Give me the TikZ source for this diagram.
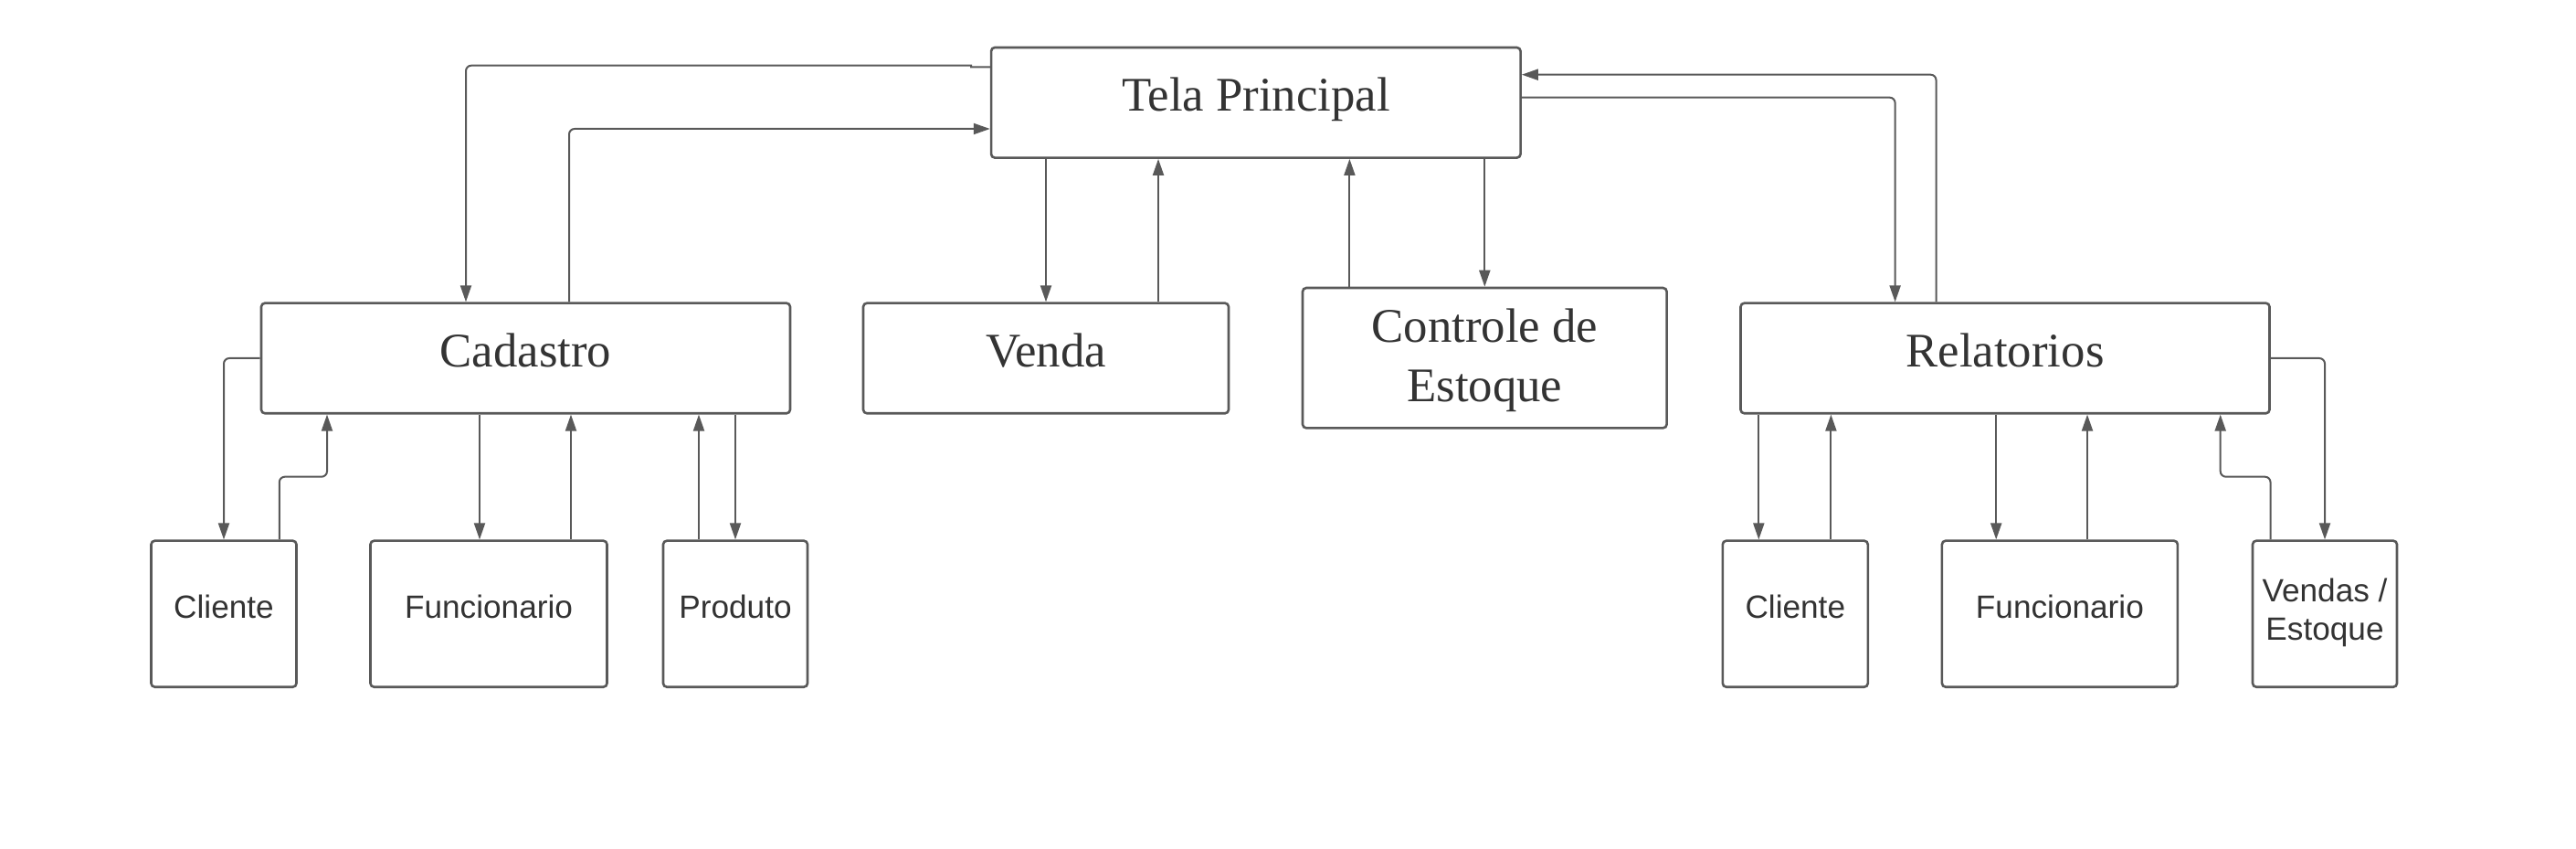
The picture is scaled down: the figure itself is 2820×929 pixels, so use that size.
\documentclass[tikz,border=0pt]{standalone}
\usepackage{fontspec}
\setmainfont{Liberation Serif}
\newfontfamily\sansf{Liberation Sans}
\usetikzlibrary{arrows.meta}
\definecolor{lc}{HTML}{595959}
\definecolor{tc}{HTML}{333333}
\tikzset{
  box/.style={draw=lc, line width=1.3pt, rounded corners=2pt, fill=white, inner sep=0pt},
  topbox/.style={box, minimum height=60.3pt},
  botbox/.style={box, minimum height=80pt},
  conn/.style={draw=lc, line width=1pt, rounded corners=3pt, -{Triangle[length=9pt,width=6pt]}},
  sertxt/.style={font=\fontsize{26.4}{32}\selectfont, text=tc, inner sep=0pt, anchor=base},
  santxt/.style={font=\sansf\fontsize{17.6}{22}\selectfont, text=tc, inner sep=0pt, anchor=base},
}
\begin{document}
\begin{tikzpicture}[x=0.5pt, y=-0.5pt]
\fill[white] (0,0) rectangle (2820,929);
\useasboundingbox (0,0) rectangle (2820,929);

% boxes
\node[topbox, minimum width=289.75pt] (tela) at (1374.8,112.3) {};
\node[topbox, minimum width=289.5pt] (cad) at (575.5,392) {};
\node[topbox, minimum width=200pt] (venda) at (1145,392) {};
\node[box, minimum width=199.3pt, minimum height=76.65pt] (ctrl) at (1625.3,391.7) {};
\node[topbox, minimum width=289.5pt] (rel) at (2195,392) {};
\node[botbox, minimum width=79.5pt] (cl1) at (245,671.7) {};
\node[botbox, minimum width=129.5pt] (fu1) at (535,671.7) {};
\node[botbox, minimum width=79pt] (pr1) at (805,671.7) {};
\node[botbox, minimum width=79.5pt] (cl2) at (1965.3,671.7) {};
\node[botbox, minimum width=129pt] (fu2) at (2254.9,671.7) {};
\node[botbox, minimum width=79pt] (ve2) at (2545,671.7) {};

% texts
\node[sertxt] (tela-t) at (1375,121.7) {Tela Principal};
\node[sertxt] (cad-t) at (575.5,402) {Cadastro};
\node[sertxt] (venda-t) at (1145,402) {Venda};
\node[sertxt] (ctrl-t1) at (1625.3,375) {Controle de};
\node[sertxt] (ctrl-t2) at (1625.3,439.3) {Estoque};
\node[sertxt] (rel-t) at (2195,401.7) {Relatorios};
\node[santxt] (cl1-t) at (245,676.7) {Cliente};
\node[santxt] (fu1-t) at (535,676.7) {Funcionario};
\node[santxt] (pr1-t) at (805,676.7) {Produto};
\node[santxt] (cl2-t) at (1965.3,676.7) {Cliente};
\node[santxt] (fu2-t) at (2254.9,676.7) {Funcionario};
\node[santxt] (ve2-t1) at (2545,658.3) {Vendas /};
\node[santxt] (ve2-t2) at (2545,700.7) {Estoque};

% connectors: Tela <-> Cadastro
\draw[conn] (tela.west |- 0,73.3) [sharp corners] -- (1063,73.3) -- (1063,71.7) [rounded corners=3pt] -- (510,71.7) -- (510,0 |- cad.north);
\draw[conn] (623,0 |- cad.north) -- (623,141) -- (tela.west |- 0,141);
% Tela <-> Venda
\draw[conn] (venda.north |- tela.south) -- (venda.north);
\draw[conn] (1268,0 |- venda.north) -- (1268,0 |- tela.south);
% Tela <-> Controle
\draw[conn] (1477.4,0 |- ctrl.north) -- (1477.4,0 |- tela.south);
\draw[conn] (ctrl.north |- tela.south) -- (ctrl.north);
% Tela <-> Relatorios
\draw[conn] (tela.east |- 0,106.7) -- (2074.6,106.7) -- (2074.6,0 |- rel.north);
\draw[conn] (2119.5,0 |- rel.north) -- (2119.5,81.7) -- (tela.east |- 0,81.7);

% Cadastro children
\draw[conn] (cad.west) -- (cl1.north |- cad.west) -- (cl1.north);
\draw[conn] (305.8,0 |- cl1.north) -- (305.8,521.7) -- (358,521.7) -- (358,0 |- cad.south);
\draw[conn] (525,0 |- cad.south) -- (525,0 |- fu1.north);
\draw[conn] (625,0 |- fu1.north) -- (625,0 |- cad.south);
\draw[conn] (765,0 |- pr1.north) -- (765,0 |- cad.south);
\draw[conn] (pr1.north |- cad.south) -- (pr1.north);

% Relatorios children
\draw[conn] (1925.3,0 |- rel.south) -- (1925.3,0 |- cl2.north);
\draw[conn] (2004.4,0 |- cl2.north) -- (2004.4,0 |- rel.south);
\draw[conn] (2185.2,0 |- rel.south) -- (2185.2,0 |- fu2.north);
\draw[conn] (2285,0 |- fu2.north) -- (2285,0 |- rel.south);
\draw[conn] (2485.5,0 |- ve2.north) -- (2485.5,521.7) -- (2430.7,521.7) -- (2430.7,0 |- rel.south);
\draw[conn] (rel.east) -- (ve2.north |- rel.east) -- (ve2.north);
\end{tikzpicture}
\end{document}
